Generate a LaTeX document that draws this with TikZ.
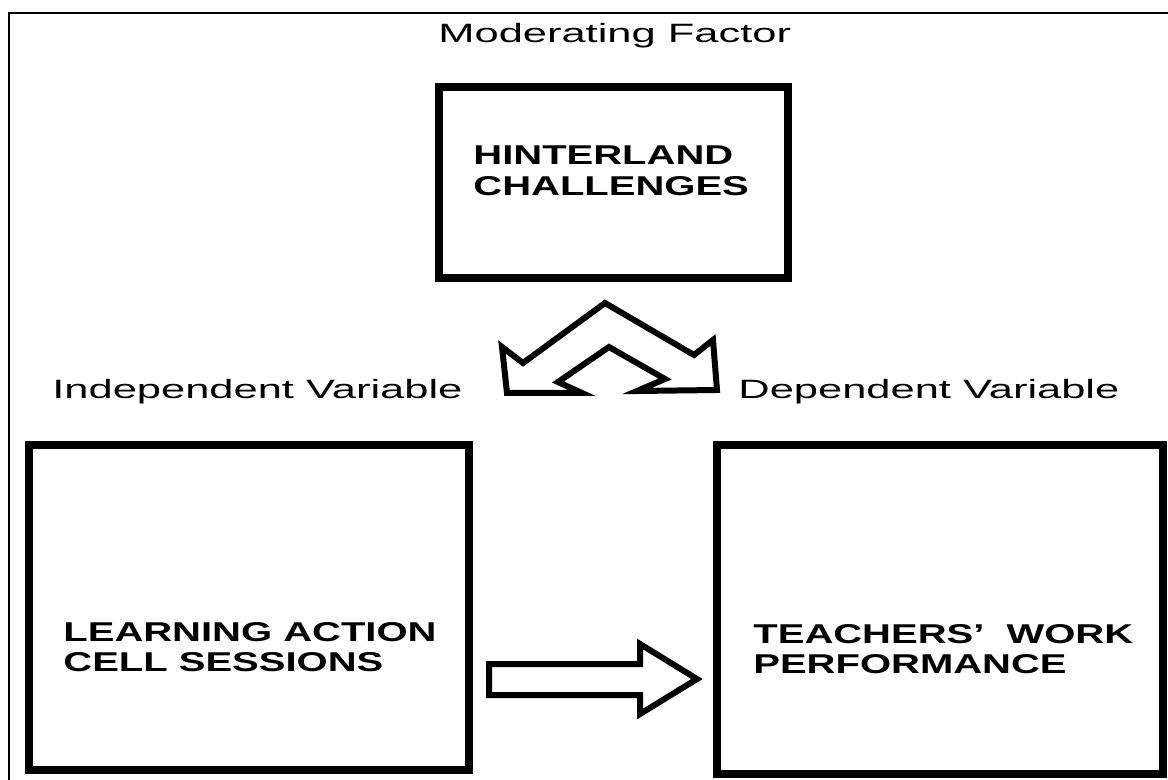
\documentclass[tikz,border=0pt]{standalone}
\usepackage{fontspec}
\setmainfont{Liberation Sans}
\newfontfamily\lblfont[FakeStretch=1.64]{Liberation Sans}
\newfontfamily\boxfont[FakeStretch=1.47]{Liberation Sans Bold}
\usetikzlibrary{positioning,calc}

\begin{document}
\begin{tikzpicture}[x=0.5pt,y=-0.5pt,
  varbox/.style={draw,line width=4pt,inner sep=0pt,fill=white},
  boxtxt/.style={font=\boxfont\fontsize{13.6}{15.3}\selectfont,align=left,
                 inner sep=0pt,anchor=west},
  varlbl/.style={font=\lblfont\fontsize{13.25}{15}\selectfont,inner sep=0pt,
                 anchor=base west},
  blockarrow/.style={draw,line width=3pt,fill=white,line join=miter}
]
\useasboundingbox (0,0) rectangle (1168,780);

% outer frame (its right and bottom edges lie off the page)
\draw[line width=1pt] (9,780) |- (1168,13);

% ==========  variable boxes  ==========
\node[varbox,minimum width=174.5pt,minimum height=95.5pt] (hint) at (613.5,182.5) {};
\node[varbox,minimum width=220pt,minimum height=162.5pt] (lac) at (249,607.5) {};
\node[varbox,minimum width=223pt,minimum height=164.5pt] (twp) at (940,609.5) {};

\node[boxtxt] (hintText) at (473,171) {HINTERLAND\\CHALLENGES};
\node[boxtxt] (lacText) at (63,647) {LEARNING ACTION\\CELL SESSIONS};
\node[boxtxt] (twpText) at (753,649) {TEACHERS’\ \ WORK\\PERFORMANCE};

% ==========  labels  ==========
\node[varlbl] (modLbl) at (438,43) {Moderating Factor};
\node[varlbl] (indLbl) at (52,399) {Independent Variable};
\node[varlbl] (depLbl) at (738,399) {Dependent Variable};

% ==========  block arrows  ==========
% LAC -> performance
\draw[blockarrow] (489,664) -- (640,664) -- (640,644) -- (697,679)
  -- (640,714) -- (640,695) -- (489,695) -- cycle;

% bent double arrow under the moderating box
\draw[blockarrow] (605,303) -- (694,355) -- (713,340) -- (717,390)
  -- (637,391) -- (665,379) -- (609,347) -- (558,382) -- (582,393)
  -- (507,393) -- (502,347) -- (523,363) -- cycle;

\end{tikzpicture}
\end{document}
